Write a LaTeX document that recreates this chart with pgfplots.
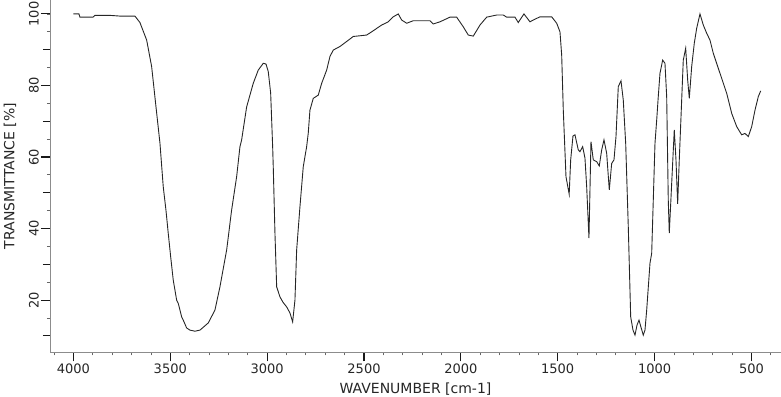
\documentclass[border=0pt]{standalone}
\usepackage{fontspec}
\setmainfont{DejaVu Sans}
\usepackage{pgfplots}
\pgfplotsset{compat=1.18}
\begin{document}
\fontsize{13bp}{15bp}\selectfont
\begin{tikzpicture}
\path[use as bounding box] (0,0) rectangle (781bp,397bp);
\begin{axis}[
  at={(50bp,44.7bp)}, anchor=south west,
  scale only axis, width=731bp, height=352.3bp,
  x dir=reverse,
  xmin=347.5, xmax=4121, ymin=5.4, ymax=103.9,
  axis x line*=bottom, axis y line*=left,
  axis line style={black!45, line width=0.9bp, -},
  tick align=outside,
  xtick={500,1000,...,4000},
  minor xtick={400,500,...,4100},
  ytick={20,40,...,100},
  minor ytick={10,15,...,100},
  extra y ticks={10,30,50,70,90},
  extra y tick labels={},
  extra y tick style={major tick length=7bp},
  major tick length=9bp, minor tick length=3bp,
  every major tick/.append style={black!90, line width=1.1bp},
  every minor tick/.append style={black!60, line width=0.8bp},
  /pgf/number format/assume math mode=true,
  /pgf/number format/1000 sep={},
  ticklabel style={font=\fontsize{13bp}{15bp}\selectfont, text=black!85},
  yticklabel style={rotate=90, anchor=south, inner sep=2bp},
  xticklabel style={anchor=north, inner sep=2bp},
  xlabel={WAVENUMBER [cm-1]},
  ylabel={TRANSMITTANCE [\%]},
  label style={font=\fontsize{14bp}{16bp}\selectfont, text=black!85},
  xlabel style={at={(axis description cs:0.5,-0.104)}, anchor=center},
  ylabel style={at={(axis description cs:-0.0547,0.5)}, anchor=center, rotate=0},
]
\addplot[black!85, line width=0.9bp] coordinates {
(4000,100)(3971.6,100)(3966.4,99.1)(3899.3,99.1)(3889,99.6)(3863,99.6)(3811,99.6)(3760,99.4)(3682.5,99.4)
(3656.7,97.6)(3622,92.7)(3596.3,85.3)(3574,74.1)(3553.4,63.9)(3536.4,51.7)(3522.5,45.2)(3510.6,38.7)
(3498,32.1)(3484.8,25.6)(3467.2,20.0)(3459,19.1)(3441.4,15.3)(3433.2,14.4)(3415.6,12.2)(3398.6,11.6)
(3372.8,11.3)(3346.9,11.6)(3304.1,13.6)(3269.5,17.2)(3243.7,23.7)(3209.1,34.0)(3183.3,45.2)(3157.5,54.5)
(3140.4,62.9)(3131.7,64.8)(3105.9,74.0)(3071.8,80.6)(3045.9,84.3)(3020.1,86.2)(3006,86.0)(2994.3,83.9)
(2981.9,77.9)(2971.6,62.9)(2968.5,57.3)(2959.7,38.7)(2950.9,23.7)(2933.9,20.9)(2918.4,19.4)(2899.3,18.1)
(2882.3,16.4)(2868.4,13.9)(2856.5,20.0)(2847.7,34.0)(2830.7,46.1)(2813.6,57.3)(2796.1,62.9)(2787.8,66.7)
(2779.1,73.1)(2762,76.4)(2736.2,77.3)(2718.6,80.6)(2692.8,84.3)(2675.8,88.1)(2658.8,89.9)(2624.2,90.9)
(2589.6,92.3)(2555.5,93.7)(2486.3,94.1)(2460.5,95.0)(2408.9,96.9)(2374.8,97.8)(2349,99.2)(2323.2,100)
(2305.6,98.3)(2279.8,97.4)(2245.8,98.1)(2159.5,98.1)(2142.5,97.2)(2107.9,97.8)(2056.3,99.1)(2021.7,99.1)
(1987.6,96.4)(1961.8,94.1)(1935.9,93.8)(1901.4,96.9)(1866.8,99.1)(1815.1,99.7)(1781,99.7)(1763.6,99.1)
(1720.7,99.1)(1703.7,97.6)(1674.3,100)(1643.3,97.8)(1626.2,98.3)(1591.6,99.2)(1531.2,99.2)(1505.4,97.4)
(1488.4,95.0)(1479.6,88.5)(1471.3,73.1)(1457.4,54.5)(1440.9,49.6)(1433.2,59.2)(1421.3,65.9)(1411,66.2)
(1394,62.0)(1385.2,61.5)(1371.3,62.9)(1359.4,59.7)(1350.6,51.7)(1338.8,37.3)(1328.4,64.3)(1316.5,59.2)
(1299,58.7)(1285.5,57.5)(1273.1,62.0)(1261.2,64.8)(1247.3,61.0)(1233.9,50.8)(1221.5,58.2)(1209.6,59.2)
(1199.3,65.7)(1187.4,79.7)(1173.4,81.3)(1161.6,75.9)(1149.2,63.8)(1135.8,40.5)(1123.4,15.3)(1111.5,11.6)
(1101.2,10.2)(1090.9,13.0)(1080.5,14.4)(1070.2,12.4)(1058.4,10.2)(1049.6,11.6)(1040.8,17.2)(1023.8,30.3)
(1015,33.1)(998,63.8)(989.2,70.3)(981,76.9)(972.2,83.4)(958.3,87.1)(946.4,86.2)(937.6,76.9)(929.4,48.0)
(924.2,38.7)(911.8,52.6)(898.4,67.6)(889.6,59.2)(880.9,46.9)(872.6,59.2)(860.2,75.9)(851.9,87.1)
(839.5,90.4)(829.2,81.5)(820.9,76.4)(808.5,85.3)(795.1,91.8)(782.7,96.0)(765.7,100)(748.6,96.9)
(731.1,94.6)(714.1,92.7)(697,89.0)(662.4,83.4)(627.8,77.8)(602,72.2)(576.2,68.5)(550.4,66.2)
(533.3,66.6)(516.3,65.7)(498.7,68.5)(481.7,73.1)(464.6,76.9)(452.2,78.5)
};
\end{axis}
\end{tikzpicture}
\end{document}
